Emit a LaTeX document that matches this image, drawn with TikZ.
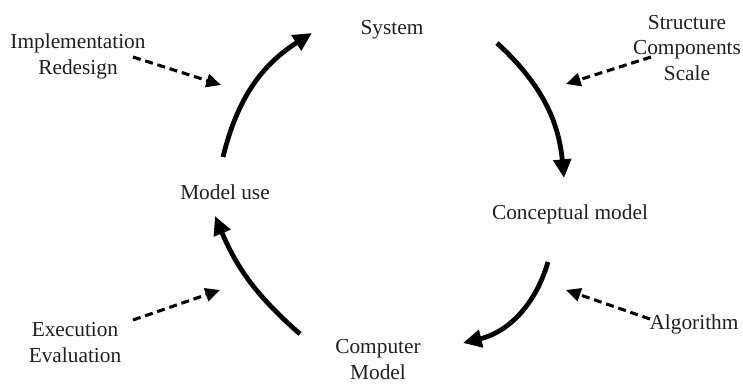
\documentclass[tikz,border=0pt]{standalone}
\usepackage{fontspec}
\setmainfont{Liberation Serif}
\usetikzlibrary{arrows.meta}
\begin{document}
\begin{tikzpicture}[x=0.75pt,y=-0.75pt,
  lbl/.style={font=\fontsize{16}{19}\selectfont, text=black!88, inner sep=0pt, align=center, anchor=base},
  flow/.style={line width=3.6pt, -{Triangle[length=14pt,width=13pt]}},
  infl/.style={line width=2.3pt, dash pattern=on 6pt off 3.6pt, -{Triangle[length=11pt,width=10pt]}}]
\useasboundingbox (0,0) rectangle (743,383);

% stages of the cycle (multi-line labels are placed by their last baseline)
\node[lbl] (sys) at (392,34) {System};
\node[lbl] (con) at (570,219) {Conceptual model};
\node[lbl] (cmp) at (378,379) {Computer\\Model};
\node[lbl] (use) at (225,199) {Model use};

% influences
\node[lbl] (str) at (687,80) {Structure\\Components\\Scale};
\node[lbl] (imp) at (78,74) {Implementation\\Redesign};
\node[lbl] (exe) at (75,362) {Execution\\Evaluation};
\node[lbl] (alg) at (694,329) {Algorithm};

% arrow end points
\coordinate (useOut) at (223,157);
\coordinate (sysIn)  at (312,33);
\coordinate (sysOut) at (497,43);
\coordinate (conIn)  at (564,178);
\coordinate (conOut) at (548,262);
\coordinate (cmpIn)  at (463,343);
\coordinate (cmpOut) at (300,334);
\coordinate (useIn)  at (215,216);

\coordinate (impFrom) at (133,57);
\coordinate (impTo)   at (221,85);
\coordinate (strFrom) at (651,57);
\coordinate (strTo)   at (566,84);
\coordinate (exeFrom) at (133,320);
\coordinate (exeTo)   at (220,290);
\coordinate (algFrom) at (650,319);
\coordinate (algTo)   at (566,290);

% main cycle
\draw[flow] (useOut) to[bend left=22] (sysIn);
\draw[flow] (sysOut) to[bend left=21] (conIn);
\draw[flow] (conOut) to[bend left=30] (cmpIn);
\draw[flow] (cmpOut) to[bend left=13] (useIn);

% dashed influences
\draw[infl] (impFrom) -- (impTo);
\draw[infl] (strFrom) -- (strTo);
\draw[infl] (exeFrom) -- (exeTo);
\draw[infl] (algFrom) -- (algTo);
\end{tikzpicture}
\end{document}
